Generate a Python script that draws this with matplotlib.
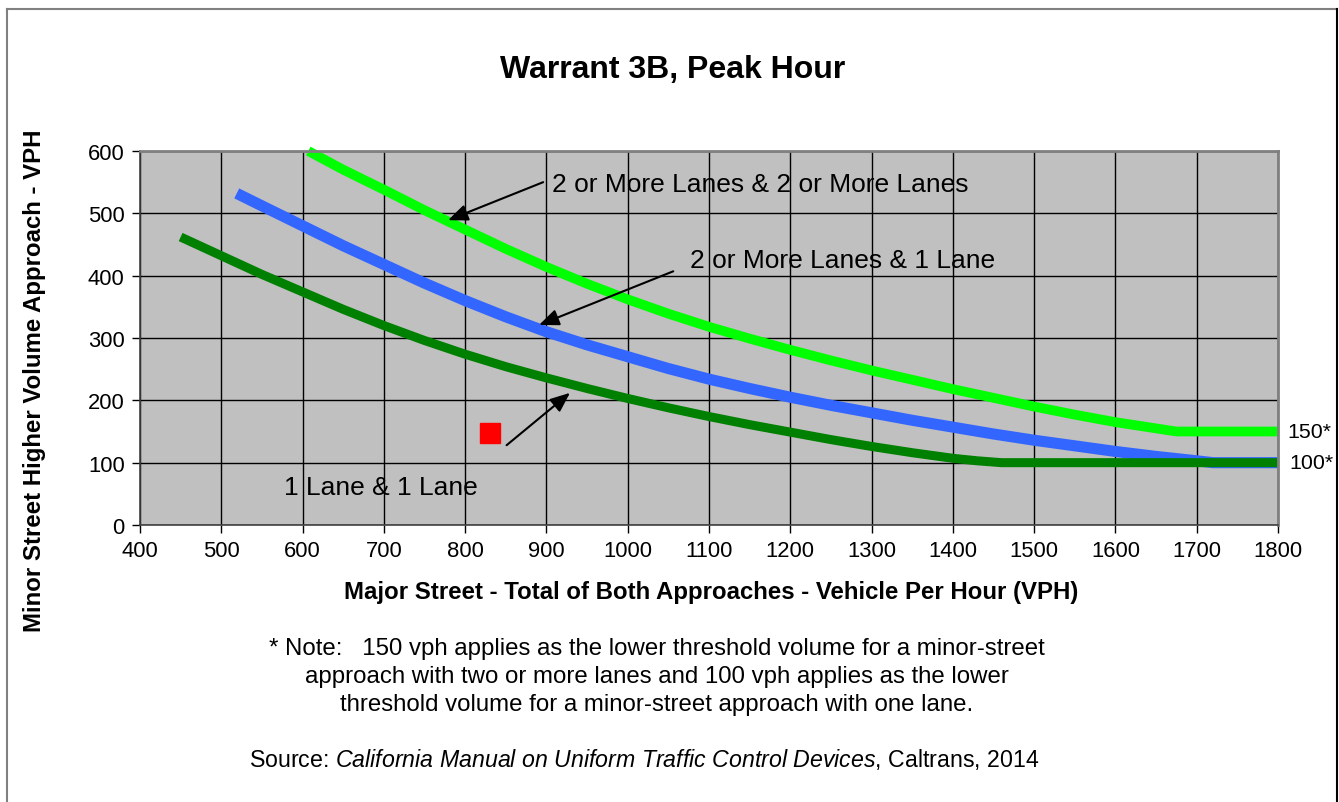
import matplotlib.pyplot as plt
from matplotlib.lines import Line2D

plt.rcParams['font.family'] = ['Liberation Sans', 'DejaVu Sans']
plt.rcParams['mathtext.fontset'] = 'custom'
plt.rcParams['mathtext.rm'] = 'Liberation Sans'
plt.rcParams['mathtext.it'] = 'Liberation Sans:italic'

# curve values (major street vph, minor street vph)
two_two_x = [607, 650, 700, 750, 800, 850, 900, 950, 1000, 1050, 1100, 1150, 1200, 1250,
             1300, 1350, 1400, 1450, 1500, 1550, 1600, 1640, 1675, 1800]
two_two_y = [600, 570, 538, 505, 474, 443, 414, 387, 362, 339, 318, 299, 281, 264,
             248, 233, 218, 204, 190, 177, 165, 157, 150, 150]

two_one_x = [519, 550, 600, 650, 700, 750, 800, 850, 900, 950, 1000, 1050, 1100, 1150,
             1200, 1250, 1300, 1350, 1400, 1450, 1500, 1550, 1600, 1650, 1700, 1720, 1800]
two_one_y = [532, 512, 480, 448, 418, 388, 360, 334, 310, 289, 270, 251, 234, 219,
             205, 192, 180, 168, 157, 146, 136, 127, 118, 110, 103, 100, 100]

one_one_x = [450, 500, 550, 600, 650, 700, 750, 800, 850, 900, 950, 1000, 1050, 1100,
             1150, 1200, 1250, 1300, 1350, 1400, 1430, 1460, 1800]
one_one_y = [462, 432, 402, 374, 346, 320, 296, 274, 254, 236, 219, 203, 188, 174,
             161, 149, 137, 126, 116, 107, 103, 100, 100]

site_x = [830]
site_y = [147]

x_ticks = list(range(400, 1801, 100))
y_ticks = list(range(0, 601, 100))

W, H = 1339, 803
fig = plt.figure(figsize=(W / 100, H / 100), dpi=100)

# outer frame
fig.add_artist(Line2D([7 / W, 7 / W], [0, 1 - 10 / H], color='#808080', lw=1.5))
fig.add_artist(Line2D([7 / W, 1337 / W], [1 - 10 / H, 1 - 10 / H], color='#808080', lw=1.5))
fig.add_artist(Line2D([1337 / W, 1337 / W], [0, 1 - 10 / H], color='black', lw=1.5))

ax = fig.add_axes([140 / W, 1 - 526 / H, (1278 - 140) / W, (526 - 152) / H])
ax.set_facecolor('#C0C0C0')
ax.set_xlim(400, 1800)
ax.set_ylim(0, 600)
ax.set_xticks(x_ticks)
ax.set_yticks(y_ticks)
ax.grid(True, color='black', lw=1.0)
ax.set_axisbelow(True)
ax.tick_params(labelsize=15.8, length=6, width=1, direction='out', pad=5)
for side in ['top', 'right']:
    ax.spines[side].set_color('#808080')
    ax.spines[side].set_linewidth(2)
for side in ['left', 'bottom']:
    ax.spines[side].set_color('#404040')
    ax.spines[side].set_linewidth(1.2)

ax.plot(two_two_x, two_two_y, color='#00FF00', lw=7, solid_capstyle='butt', clip_on=False)
ax.plot(two_one_x, two_one_y, color='#3366FF', lw=8, solid_capstyle='butt', clip_on=False)
ax.plot(one_one_x, one_one_y, color='#008000', lw=6.5, solid_capstyle='butt', clip_on=False)
ax.plot(site_x, site_y, 's', color='#FF0000', ms=14)

arrow = dict(arrowstyle='-|>,head_length=1.2,head_width=0.5', color='black', lw=1.5,
             shrinkA=0, shrinkB=0)
ax.annotate('', xy=(779, 489), xytext=(896, 550), arrowprops=arrow)
ax.annotate('', xy=(891, 321), xytext=(1056, 407), arrowprops=arrow)
ax.annotate('', xy=(929, 212), xytext=(851, 128), arrowprops=arrow)

ax.text(907, 547, '2 or More Lanes & 2 or More Lanes', fontsize=19, va='center', ha='left')
ax.text(1077, 425, '2 or More Lanes & 1 Lane', fontsize=19, va='center', ha='left')
ax.text(577, 61, '1 Lane & 1 Lane', fontsize=19, va='center', ha='left')
ax.text(1811, 150, '150*', fontsize=15.4, va='center', ha='left', clip_on=False)
ax.text(1814, 100, '100*', fontsize=15.4, va='center', ha='left', clip_on=False)

fig.text(673 / W, 1 - 70 / H, 'Warrant 3B, Peak Hour', fontsize=23, fontweight='bold',
         ha='center', va='center')
fig.text(711 / W, 1 - 593 / H, 'Major Street - Total of Both Approaches - Vehicle Per Hour (VPH)',
         fontsize=17.3, fontweight='bold', ha='center', va='center')
fig.text(35 / W, 1 - 381 / H, 'Minor Street Higher Volume Approach - VPH',
         fontsize=17.3, fontweight='bold', ha='center', va='center', rotation=90)

note = ('* Note:   150 vph applies as the lower threshold volume for a minor-street\n'
        'approach with two or more lanes and 100 vph applies as the lower\n'
        'threshold volume for a minor-street approach with one lane.')
fig.text(657 / W, 1 - 677 / H, note, fontsize=17.3, ha='center', va='center',
         linespacing=1.37)
fig.text(644 / W, 1 - 760 / H,
         r'Source: $\it{California\ Manual\ on\ Uniform\ Traffic\ Control\ Devices}$, Caltrans, 2014',
         fontsize=16.7, ha='center', va='center')

fig.savefig('out.png', dpi=100)
